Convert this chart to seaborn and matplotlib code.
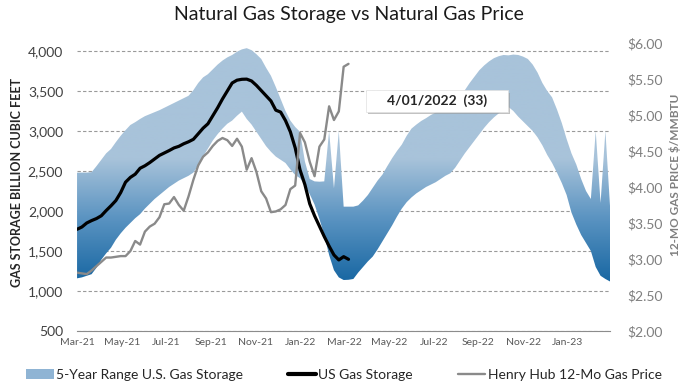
import numpy as np
import pandas as pd
import seaborn as sns
import matplotlib.pyplot as plt
from matplotlib.colors import LinearSegmentedColormap
from matplotlib.patches import Patch, Rectangle
from matplotlib.lines import Line2D

#%% Data (weekly points, week 0 = early Mar-21)

tick_labels = ['Mar-21', 'May-21', 'Jul-21', 'Sep-21', 'Nov-21', 'Jan-22',
               'Mar-22', 'May-22', 'Jul-22', 'Sep-22', 'Nov-22', 'Jan-23']

# 5-year range, max and min (Bcf)
band_max = [2479, 2480, 2480, 2485, 2560, 2640, 2720, 2775, 2860, 2940,
            3010, 3075, 3110, 3150, 3185, 3210, 3235, 3260, 3290, 3320,
            3350, 3380, 3410, 3440, 3510, 3600, 3670, 3710, 3770, 3830,
            3880, 3920, 3950, 3990, 4020, 4035, 4010, 3960, 3900, 3790,
            3690, 3550, 3400, 3250, 3130, 3050, 2990, 2620, 2400, 2370,
            2366, 2370, 3000, 2284, 3000, 2054, 2054, 2054, 2070, 2130,
            2200, 2290, 2380, 2455, 2560, 2660, 2750, 2830, 2940, 3030,
            3080, 3125, 3160, 3200, 3230, 3265, 3290, 3320, 3360, 3420,
            3510, 3600, 3680, 3760, 3820, 3870, 3910, 3935, 3950, 3945,
            3955, 3950, 3930, 3900, 3830, 3730, 3600, 3500, 3420, 3270,
            3100, 2900, 2720, 2580, 2400, 2250, 2150, 3000, 2100, 3000, 2013]
band_min = [1158, 1170, 1190, 1210, 1290, 1390, 1470, 1540, 1640, 1720,
            1790, 1850, 1910, 1960, 2030, 2090, 2150, 2200, 2250, 2300,
            2340, 2380, 2410, 2440, 2480, 2570, 2680, 2780, 2880, 2960,
            3030, 3090, 3130, 3190, 3242, 3150, 3080, 2990, 2900, 2810,
            2740, 2680, 2640, 2600, 2520, 2450, 2410, 2330, 2210, 2080,
            1900, 1700, 1450, 1260, 1170, 1137, 1140, 1150, 1230, 1300,
            1370, 1430, 1520, 1620, 1720, 1820, 1930, 2030, 2110, 2170,
            2220, 2260, 2300, 2330, 2360, 2400, 2440, 2471, 2540, 2630,
            2720, 2800, 2880, 2960, 3040, 3110, 3170, 3220, 3260, 3300,
            3250, 3180, 3120, 3060, 3000, 2920, 2820, 2700, 2600, 2480,
            2350, 2200, 1980, 1830, 1700, 1600, 1500, 1300, 1190, 1150, 1117]

# US gas storage (Bcf)
storage = [1771, 1800, 1850, 1880, 1905, 1940, 2005, 2065, 2130, 2230,
           2360, 2420, 2460, 2534, 2565, 2605, 2650, 2695, 2725, 2755,
           2788, 2808, 2840, 2865, 2896, 2965, 3035, 3090, 3190, 3290,
           3400, 3500, 3600, 3635, 3646, 3648, 3625, 3570, 3505, 3440,
           3375, 3260, 3236, 3130, 2990, 2790, 2513, 2330, 2090, 1940,
           1810, 1680, 1560, 1450, 1388, 1429, 1396]

# Henry Hub 12-month strip ($/MMBtu)
price = [2.81, 2.80, 2.79, 2.84, 2.90, 2.96, 3.02, 3.02, 3.03, 3.04,
         3.04, 3.11, 3.25, 3.20, 3.38, 3.45, 3.49, 3.58, 3.76, 3.77,
         3.86, 3.75, 3.67, 3.87, 4.10, 4.30, 4.42, 4.48, 4.57, 4.64,
         4.68, 4.65, 4.57, 4.67, 4.56, 4.24, 4.40, 4.21, 3.94, 3.84,
         3.65, 3.66, 3.69, 3.75, 3.97, 4.02, 4.75, 4.62, 4.35, 4.15,
         4.56, 4.66, 5.12, 4.93, 5.05, 5.67, 5.71]

df_band = pd.DataFrame({'week': range(len(band_max)), 'lo': band_min, 'hi': band_max})
df_lines = pd.DataFrame({'week': range(len(storage)), 'storage': storage, 'price': price})

#%% Plot

sns.set_theme(style='white')
plt.rcParams['font.family'] = ['Lato', 'DejaVu Sans']

fig = plt.figure(figsize=(6.88, 3.91), dpi=100)
ax = fig.add_axes([0.112, 0.1535, 0.775, 0.7366])

# band with vertical gradient, clipped to the range polygon
poly = ax.fill_between(df_band.week, df_band.lo, df_band.hi, facecolor='none', edgecolor='none')
cmap = LinearSegmentedColormap.from_list('band', ['#1b69a4', '#5a93c1', '#a8c3da'])
yy = np.linspace(500, 4100, 400)
grad = np.clip((yy - 1150) / 1500, 0, 1)[:, None]
im = ax.imshow(grad, extent=[0, 110, 500, 4100], origin='lower', aspect='auto',
               cmap=cmap, vmin=0, vmax=1, zorder=1)
im.set_clip_path(poly.get_paths()[0], transform=ax.transData)

sns.lineplot(data=df_lines, x='week', y='storage', ax=ax, color='black', lw=2.3, zorder=4)

ax.set_xlim(0, 110)
ax.set_ylim(500, 4100)
ax.set_yticks(range(500, 4001, 500), [f'{v:,}' for v in range(500, 4001, 500)])
ax.set_xticks(np.arange(len(tick_labels)) * 9.2, tick_labels)
ax.grid(axis='y', ls=(0, (3, 2)), color='#9a9a9a', lw=0.8)
ax.set_axisbelow(True)
ax.set_xlabel('')
ax.set_ylabel('')
for s in ['top', 'left', 'right']:
    ax.spines[s].set_visible(False)
ax.spines['bottom'].set_color('#8c8c8c')
ax.spines['bottom'].set_linewidth(0.8)
ax.tick_params(axis='y', length=0, pad=10, labelsize=10, labelcolor='#404040')
ax.tick_params(axis='x', length=3, width=0.8, color='#8c8c8c', pad=2, labelsize=7.5, labelcolor='#595959')

ax2 = ax.twinx()
sns.lineplot(data=df_lines, x='week', y='price', ax=ax2, color='#8a8a8a', lw=1.7)
ax2.set_ylim(2, 6)
ax2.set_yticks(np.arange(2, 6.01, 0.5), [f'${v:.2f}' for v in np.arange(2, 6.01, 0.5)])
ax2.set_ylabel('')
ax2.set_xlabel('')
for s in ['top', 'left', 'right', 'bottom']:
    ax2.spines[s].set_visible(False)
ax2.tick_params(axis='y', length=0, pad=12, labelsize=10, labelcolor='#7f7f7f')
ax2.grid(False)

# annotation box
ax.add_patch(Rectangle((0.546, 0.752), 0.266, 0.076, transform=ax.transAxes,
                       facecolor='#9a9a9a', edgecolor='none', alpha=0.6, zorder=5))
ax.add_patch(Rectangle((0.542, 0.760), 0.266, 0.076, transform=ax.transAxes,
                       facecolor='white', edgecolor='#e0e0e0', lw=0.5, zorder=6))
ax.text(0.675, 0.798, '4/01/2022  (33)', transform=ax.transAxes, ha='center', va='center',
        fontsize=10, fontweight='bold', color='#262626', zorder=7)

fig.text(0.507, 0.963, 'Natural Gas Storage vs Natural Gas Price', ha='center', va='center',
         fontsize=14, color='#1a1a1a')
fig.text(0.025, 0.534, 'GAS STORAGE BILLION CUBIC FEET', rotation=90, ha='center', va='center',
         fontsize=9, fontweight='bold', color='#262626')
fig.text(0.981, 0.552, '12-MO GAS PRICE $/MMBTU', rotation=90, ha='center', va='center',
         fontsize=8.5, fontweight='bold', color='#7f7f7f')

handles = [Patch(facecolor='#8fb4d4', edgecolor='none'),
           Line2D([], [], color='black', lw=3),
           Line2D([], [], color='#8a8a8a', lw=1.7)]
labels = ['5-Year Range U.S. Gas Storage', 'US Gas Storage', 'Henry Hub 12-Mo Gas Price']
fig.legend(handles, labels, loc='center', bbox_to_anchor=(0.5, 0.042), ncol=3, frameon=False,
           fontsize=10, handlelength=2.0, handletextpad=0.2, columnspacing=3.2,
           labelcolor='#262626')

fig.savefig('out.png', dpi=100)
